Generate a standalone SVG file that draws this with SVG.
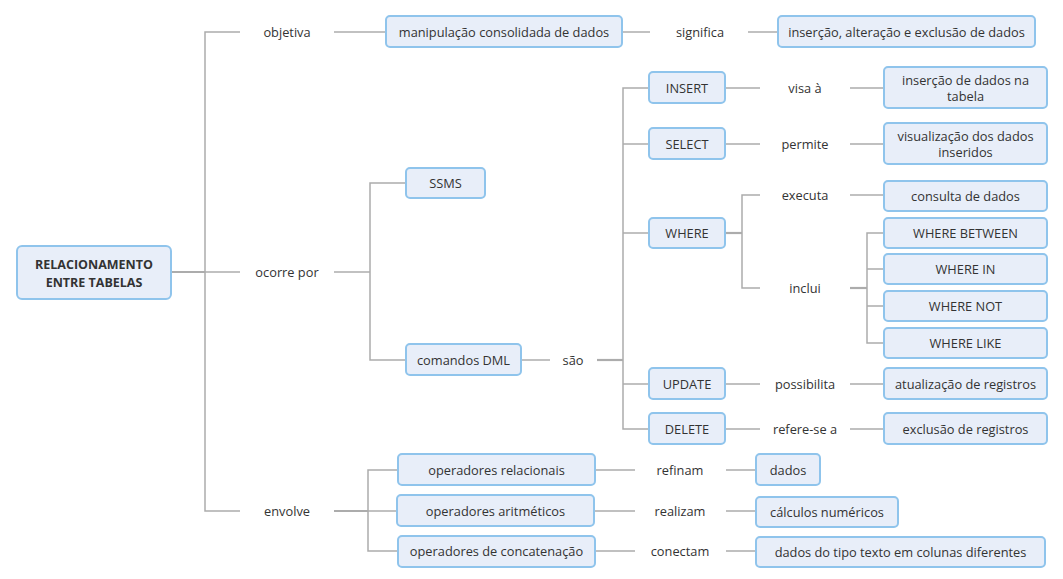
<svg xmlns="http://www.w3.org/2000/svg" width="1063" height="579" viewBox="0 0 1063 579">
  <style>
    .box { fill: #e8eef9; stroke: #8fc4ec; stroke-width: 2; }
    .t { font-family: "Open Sans", "Liberation Sans", sans-serif; font-size: 12.8px; fill: #333; text-anchor: middle; dominant-baseline: central; }
    .b { font-weight: bold; font-size: 12.5px; }
    .ln { fill: none; stroke: #acacac; stroke-width: 1.5; }
    .lk { fill: none; stroke: #acacac; stroke-width: 2.2; }
  </style>
  <rect width="1063" height="579" fill="#ffffff"/>

  <!-- connectors -->
  <g id="connectors">
    <path class="lk" d="M171 272 H205"/>
    <path class="ln" d="M240 32 H205 V511 H240"/>
    <path class="ln" d="M205 272 H240"/>
    <!-- objetiva -->
    <path class="ln" d="M334 32 H386"/>
    <path class="ln" d="M622 32 H650"/>
    <path class="ln" d="M748 32 H778"/>
    <!-- ocorre por -->
    <path class="ln" d="M334 272 H370"/>
    <path class="ln" d="M406 183 H370 V360 H406"/>
    <path class="ln" d="M521 360 H550"/>
    <path class="lk" d="M597 360 H623"/>
    <path class="ln" d="M649 88 H623 V429 H649"/>
    <path class="ln" d="M623 144 H649"/>
    <path class="ln" d="M623 233 H649"/>
    <path class="ln" d="M623 384 H649"/>
    <!-- command verbs -->
    <path class="ln" d="M725 88 H760 M850 88 H884"/>
    <path class="ln" d="M725 144 H760 M850 144 H884"/>
    <path class="lk" d="M725 233 H742"/>
    <path class="ln" d="M760 195 H742 V288 H760"/>
    <path class="ln" d="M850 195 H884"/>
    <path class="lk" d="M850 288 H867"/>
    <path class="ln" d="M884 233 H867 V343 H884"/>
    <path class="ln" d="M867 269 H884 M867 306 H884"/>
    <path class="ln" d="M725 384 H760 M850 384 H884"/>
    <path class="ln" d="M725 429 H760 M850 429 H884"/>
    <!-- envolve -->
    <path class="lk" d="M334 511 H368"/>
    <path class="ln" d="M398 470 H368 V551 H398"/>
    <path class="ln" d="M368 511 H397"/>
    <path class="ln" d="M595 470 H635 M726 470 H756"/>
    <path class="ln" d="M594 511 H635 M726 511 H756"/>
    <path class="ln" d="M595 551 H635 M726 551 H756"/>
  </g>

  <!-- root -->
  <g id="root">
    <rect class="box" x="17" y="246" width="154" height="53" rx="5"/>
    <text class="t b" x="94" y="264">RELACIONAMENTO</text>
    <text class="t b" x="94" y="282">ENTRE TABELAS</text>
  </g>

  <!-- relation labels -->
  <g id="labels">
    <text class="t" x="287" y="32">objetiva</text>
    <text class="t" x="287" y="272">ocorre por</text>
    <text class="t" x="287" y="511">envolve</text>
    <text class="t" x="700" y="32">significa</text>
    <text class="t" x="573" y="360">são</text>
    <text class="t" x="805" y="88">visa à</text>
    <text class="t" x="805" y="144">permite</text>
    <text class="t" x="805" y="195">executa</text>
    <text class="t" x="805" y="288">inclui</text>
    <text class="t" x="805" y="384">possibilita</text>
    <text class="t" x="805" y="429">refere-se a</text>
    <text class="t" x="680" y="470">refinam</text>
    <text class="t" x="680" y="511">realizam</text>
    <text class="t" x="680" y="551">conectam</text>
  </g>

  <g id="manipulacao">
    <rect class="box" x="386" y="16" width="236" height="31" rx="4"/>
    <text class="t" x="504" y="32">manipulação consolidada de dados</text>
  </g>
  <g id="insercao-alteracao">
    <rect class="box" x="778" y="16" width="257" height="31" rx="4"/>
    <text class="t" x="906.5" y="32">inserção, alteração e exclusão de dados</text>
  </g>

  <g id="ssms">
    <rect class="box" x="406" y="168" width="79" height="30" rx="4"/>
    <text class="t" x="445.5" y="183">SSMS</text>
  </g>
  <g id="comandos-dml">
    <rect class="box" x="406" y="344" width="115" height="31" rx="4"/>
    <text class="t" x="463.5" y="360">comandos DML</text>
  </g>

  <g id="insert">
    <rect class="box" x="649" y="72" width="76" height="31" rx="4"/>
    <text class="t" x="687" y="88">INSERT</text>
  </g>
  <g id="select">
    <rect class="box" x="649" y="128" width="76" height="31" rx="4"/>
    <text class="t" x="687" y="144">SELECT</text>
  </g>
  <g id="where">
    <rect class="box" x="649" y="218" width="76" height="30" rx="4"/>
    <text class="t" x="687" y="233">WHERE</text>
  </g>
  <g id="update">
    <rect class="box" x="649" y="368" width="76" height="31" rx="4"/>
    <text class="t" x="687" y="384">UPDATE</text>
  </g>
  <g id="delete">
    <rect class="box" x="649" y="413" width="76" height="31" rx="4"/>
    <text class="t" x="687" y="429">DELETE</text>
  </g>

  <g id="insercao-tabela">
    <rect class="box" x="884" y="67" width="163" height="41" rx="4"/>
    <text class="t" x="965.5" y="80">inserção de dados na</text>
    <text class="t" x="965.5" y="96">tabela</text>
  </g>
  <g id="visualizacao">
    <rect class="box" x="884" y="123" width="163" height="41" rx="4"/>
    <text class="t" x="965.5" y="136">visualização dos dados</text>
    <text class="t" x="965.5" y="152">inseridos</text>
  </g>
  <g id="consulta">
    <rect class="box" x="884" y="181" width="163" height="30" rx="4"/>
    <text class="t" x="965.5" y="196">consulta de dados</text>
  </g>
  <g id="where-between">
    <rect class="box" x="884" y="218" width="163" height="30" rx="4"/>
    <text class="t" x="965.5" y="233">WHERE BETWEEN</text>
  </g>
  <g id="where-in">
    <rect class="box" x="884" y="254" width="163" height="30" rx="4"/>
    <text class="t" x="965.5" y="269">WHERE IN</text>
  </g>
  <g id="where-not">
    <rect class="box" x="884" y="291" width="163" height="30" rx="4"/>
    <text class="t" x="965.5" y="306">WHERE NOT</text>
  </g>
  <g id="where-like">
    <rect class="box" x="884" y="328" width="163" height="30" rx="4"/>
    <text class="t" x="965.5" y="343">WHERE LIKE</text>
  </g>
  <g id="atualizacao">
    <rect class="box" x="884" y="368" width="163" height="31" rx="4"/>
    <text class="t" x="965.5" y="384">atualização de registros</text>
  </g>
  <g id="exclusao">
    <rect class="box" x="884" y="413" width="163" height="31" rx="4"/>
    <text class="t" x="965.5" y="429">exclusão de registros</text>
  </g>

  <g id="op-relacionais">
    <rect class="box" x="398" y="454" width="197" height="31" rx="4"/>
    <text class="t" x="496.5" y="470">operadores relacionais</text>
  </g>
  <g id="op-aritmeticos">
    <rect class="box" x="397" y="495" width="197" height="31" rx="4"/>
    <text class="t" x="495.5" y="511">operadores aritméticos</text>
  </g>
  <g id="op-concatenacao">
    <rect class="box" x="398" y="536" width="197" height="31" rx="4"/>
    <text class="t" x="496.5" y="551">operadores de concatenação</text>
  </g>
  <g id="dados">
    <rect class="box" x="756" y="454" width="64" height="31" rx="4"/>
    <text class="t" x="788" y="470">dados</text>
  </g>
  <g id="calculos">
    <rect class="box" x="756" y="497" width="142" height="30" rx="4"/>
    <text class="t" x="827" y="512">cálculos numéricos</text>
  </g>
  <g id="dados-texto">
    <rect class="box" x="756" y="537" width="289" height="30" rx="4"/>
    <text class="t" x="900.5" y="552">dados do tipo texto em colunas diferentes</text>
  </g>
</svg>
